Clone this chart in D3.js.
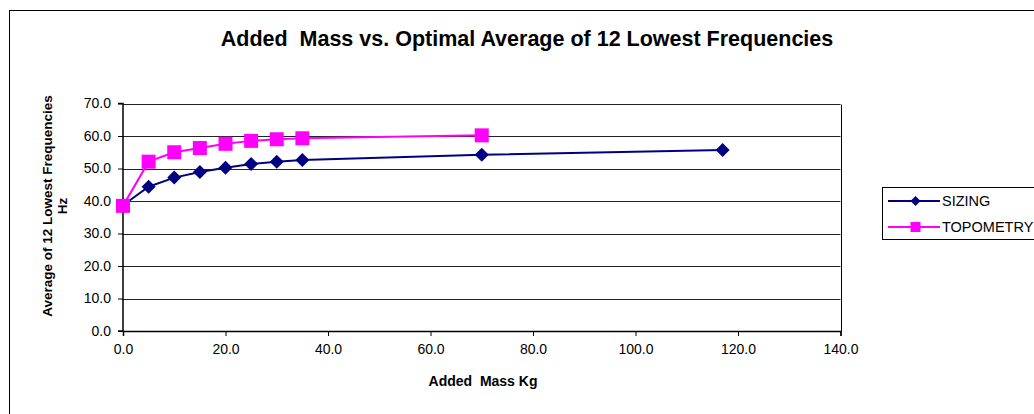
<!DOCTYPE html>
<html><head><meta charset="utf-8">
<script src="https://cdn.jsdelivr.net/npm/d3@7"></script>
<style>body{margin:0;background:#fff;}svg{display:block;font-family:Arial,"Liberation Sans",sans-serif;}text{white-space:pre;}</style>
</head><body>
<svg id="c" width="1034" height="414"></svg>
<script>
const massX = [0, 5, 10, 15, 20, 25, 30, 35, 70, 117];
const sizing = [38.7, 44.4, 47.2, 48.9, 50.2, 51.4, 52.1, 52.6, 54.2, 55.7];
const topoX = [0, 5, 10, 15, 20, 25, 30, 35, 70];
const topometry = [38.5, 52.1, 55.0, 56.3, 57.6, 58.5, 59.0, 59.3, 60.2];
const xTicks = [0, 20, 40, 60, 80, 100, 120, 140];
const yTicks = [0, 10, 20, 30, 40, 50, 60, 70];
const seriesNames = ["SIZING", "TOPOMETRY"];

const svg = d3.select("#c");
const L = 123, R = 840.5, T = 103.5, B = 331;
const x = d3.scaleLinear().domain([0, 140]).range([L, R]);
const y = d3.scaleLinear().domain([0, 70]).range([B, T]);

// outer border
svg.append("rect").attr("x", 9.5).attr("y", 10.5).attr("width", 1040).attr("height", 420)
  .attr("fill", "none").attr("stroke", "#000").attr("stroke-width", 1);

// title
svg.append("text").attr("x", 527).attr("y", 46).attr("text-anchor", "middle")
  .attr("font-size", 21.5).attr("font-weight", "bold").text("Added  Mass vs. Optimal Average of 12 Lowest Frequencies");

// gridlines
svg.append("g").selectAll("line").data(yTicks.filter(d => d > 0)).join("line")
  .attr("x1", L).attr("x2", R).attr("y1", d => Math.round(y(d)) + 0.5).attr("y2", d => Math.round(y(d)) + 0.5)
  .attr("stroke", "#222").attr("stroke-width", 1);
// right border
svg.append("line").attr("x1", Math.round(R) + 0.5).attr("x2", Math.round(R) + 0.5)
  .attr("y1", Math.round(T) + 0.5).attr("y2", Math.round(B) + 0.5).attr("stroke", "#000");

// axes
const yAxis = d3.axisLeft(y).tickValues(yTicks).tickFormat(d3.format(".1f")).tickSize(5).tickPadding(7);
const gy = svg.append("g").attr("transform", `translate(${L},0)`).call(yAxis);
const xAxis = d3.axisBottom(x).tickValues(xTicks).tickFormat(d3.format(".1f")).tickSize(5).tickPadding(8);
const gx = svg.append("g").attr("transform", `translate(0,${B})`).call(xAxis);
[gx, gy].forEach(g => {
  g.select(".domain").attr("stroke", "#000").attr("stroke-width", 1.5);
  g.selectAll(".tick line").attr("stroke", "#000");
  g.selectAll("text").attr("font-size", 14).attr("fill", "#000").attr("font-family", "Arial, 'Liberation Sans', sans-serif");
});
gy.select(".domain").attr("d", `M-5,${B}H0V${T}H-5`);

// axis titles
svg.append("text").attr("x", 483).attr("y", 386).attr("text-anchor", "middle")
  .attr("font-size", 14).attr("font-weight", "bold").text("Added  Mass Kg");
const yt = svg.append("text").attr("transform", "translate(52,206) rotate(-90)").attr("text-anchor", "middle")
  .attr("font-size", 13.5).attr("font-weight", "bold");
yt.append("tspan").attr("x", 0).attr("dy", 0).text("Average of 12 Lowest Frequencies");
yt.append("tspan").attr("x", 0).attr("dy", 15).text("Hz");

// series
const line = d3.line().x(d => x(d[0])).y(d => y(d[1]));
const sData = massX.map((m, i) => [m, sizing[i]]);
const tData = topoX.map((m, i) => [m, topometry[i]]);

svg.append("path").datum(sData).attr("d", line).attr("fill", "none").attr("stroke", "#000080").attr("stroke-width", 2);
svg.append("path").datum(tData).attr("d", line).attr("fill", "none").attr("stroke", "#FF00FF").attr("stroke-width", 2);

function diamondPath(r) { return `M0,${-r}L${r},0L0,${r}L${-r},0Z`; }
svg.append("g").selectAll("path").data(sData).join("path")
  .attr("transform", d => `translate(${x(d[0])},${y(d[1])})`)
  .attr("d", diamondPath(7)).attr("fill", "#000080");
svg.append("g").selectAll("rect").data(tData).join("rect")
  .attr("x", d => x(d[0]) - 7).attr("y", d => y(d[1]) - 7).attr("width", 14).attr("height", 14)
  .attr("fill", "#FF00FF");

// legend
const lg = svg.append("g");
lg.append("rect").attr("x", 882.5).attr("y", 187.5).attr("width", 160).attr("height", 52)
  .attr("fill", "#fff").attr("stroke", "#000");
const colors = ["#000080", "#FF00FF"];
seriesNames.forEach((name, i) => {
  const yy = 201 + i * 26;
  lg.append("line").attr("x1", 888).attr("x2", 940).attr("y1", yy).attr("y2", yy)
    .attr("stroke", colors[i]).attr("stroke-width", 2);
  if (i === 0) {
    lg.append("path").attr("transform", `translate(915.5,${yy})`).attr("d", diamondPath(5)).attr("fill", colors[i]);
  } else {
    lg.append("rect").attr("x", 910.5).attr("y", yy - 5).attr("width", 10).attr("height", 10).attr("fill", colors[i]);
  }
  lg.append("text").attr("x", 942).attr("y", yy + 5).attr("font-size", 14.5).text(name);
});
</script>
</body></html>
